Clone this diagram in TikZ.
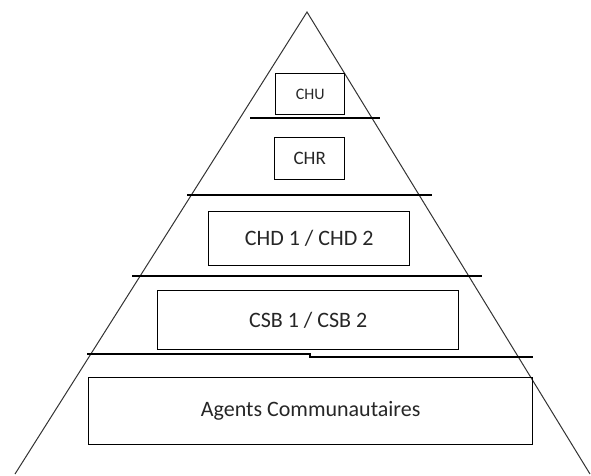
\documentclass[tikz,border=0pt]{standalone}
\usepackage{fontspec}
\setmainfont{Carlito}
\begin{document}
\begin{tikzpicture}[x=1pt,y=-1pt,
  lvl/.style={draw=black,line width=1.4pt,inner sep=0pt,anchor=north west,text=black!85},
  sep/.style={draw=black,line width=1.3pt},
  side/.style={draw=black!80,line width=1pt}]
\useasboundingbox (0,0) rectangle (591,475);
\coordinate (apex) at (307,12);
\coordinate (bl) at (15,474);
\coordinate (br) at (590,474);
\draw[side] (bl) -- (apex) -- (br);
% separators
\coordinate (s1a) at (250,118); \coordinate (s1b) at (380,118);
\coordinate (s2a) at (187,195); \coordinate (s2b) at (432,195);
\coordinate (s3a) at (132,276); \coordinate (s3b) at (482,276);
\coordinate (s4a) at (87,354); \coordinate (s4m) at (310,354);
\coordinate (s4n) at (310,357); \coordinate (s4b) at (533,357);
\draw[sep] (s1a) -- (s1b);
\draw[sep] (s2a) -- (s2b);
\draw[sep] (s3a) -- (s3b);
\draw[sep] (s4a) -- (s4m) -- (s4n) -- (s4b);
% boxes
\node[lvl,minimum width=69pt,minimum height=41pt,font=\fontsize{16}{18}\selectfont] (chu) at (275,73) {CHU};
\node[lvl,minimum width=70pt,minimum height=42pt,font=\fontsize{19}{21}\selectfont] (chr) at (274,137) {CHR};
\node[lvl,minimum width=201pt,minimum height=54pt,font=\fontsize{22}{24}\selectfont] (chd) at (208,211) {CHD 1 / CHD 2};
\node[lvl,minimum width=301pt,minimum height=59pt,font=\fontsize{22}{24}\selectfont] (csb) at (157,290) {CSB 1 / CSB 2};
\node[lvl,minimum width=444pt,minimum height=67pt,font=\fontsize{22}{24}\selectfont] (ac) at (88,377) {Agents Communautaires};
\end{tikzpicture}
\end{document}
